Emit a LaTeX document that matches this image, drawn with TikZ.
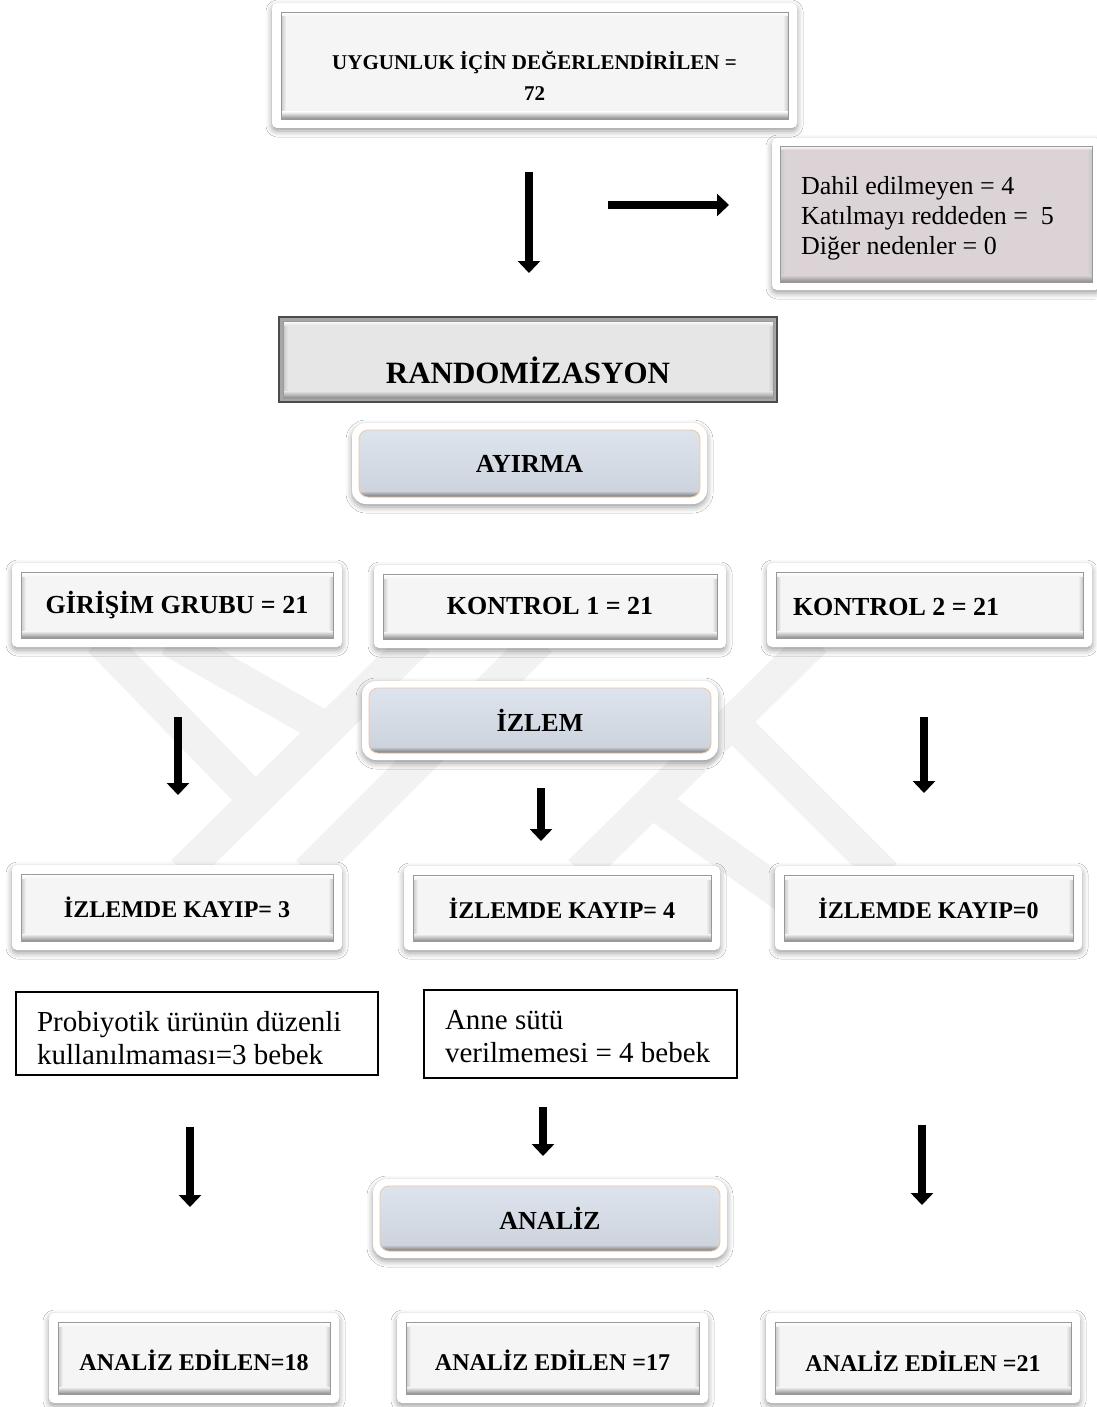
\documentclass[tikz,border=0pt]{standalone}
\usepackage{fontspec}
\setmainfont{Liberation Serif}
\usetikzlibrary{arrows.meta,shadows.blur,calc}
\definecolor{wm}{HTML}{F2F2F2}
\definecolor{panelg}{HTML}{F5F5F5}
\definecolor{panelp}{HTML}{DCD3D7}
\definecolor{panelb}{HTML}{CCD2DB}
\definecolor{panelbt}{HTML}{DEE4ED}
\definecolor{peach}{HTML}{F0C6A2}
\definecolor{randfill}{HTML}{E6E6E6}
\newcommand\fs[2]{\fontsize{#1}{#2}\selectfont}
\newcommand\lowerby[2]{\raisebox{-#1}[\height][\depth]{#2}}
\tikzset{
  frame/.style={fill=white, rounded corners=5pt, inner sep=0pt,
    blur shadow={shadow xshift=0pt, shadow yshift=-3pt, shadow blur radius=6pt, shadow opacity=40}},
  bevel/.style 2 args={path picture={
    \coordinate (pa) at ([xshift=#1,yshift=#1]path picture bounding box.south west);
    \coordinate (pb) at ([xshift=-#1,yshift=-#1]path picture bounding box.north east);
    \coordinate (pc) at (pa -| pb);
    \coordinate (pd) at (pa |- pb);
    \fill[#2, sharp corners] (pa) rectangle (pb);
    \shade[sharp corners, left color=black!22, right color=#2] (pa) rectangle ([xshift=5pt]pd);
    \shade[sharp corners, right color=black!22, left color=#2] (pc) rectangle ([xshift=-5pt]pb);
    \shade[sharp corners, top color=white, bottom color=#2] (pd) rectangle ([yshift=-4pt]pb);
    \shade[sharp corners, top color=#2, bottom color=black!45] (pa) rectangle ([yshift=7pt]pc);
    \draw[sharp corners, black!40, line width=0.6pt] (pa) rectangle (pb);
  }},
  button/.style={fill=white, rounded corners=14pt, inner sep=0pt,
    blur shadow={shadow xshift=0pt, shadow yshift=-3pt, shadow blur radius=6pt, shadow opacity=40},
    path picture={
    \coordinate (pa) at ([xshift=7pt,yshift=7pt]path picture bounding box.south west);
    \coordinate (pb) at ([xshift=-7pt,yshift=-7pt]path picture bounding box.north east);
    \coordinate (pc) at (pa -| pb);
    \begin{scope}
      \clip[rounded corners=9pt] (pa) rectangle (pb);
      \shade[sharp corners, top color=panelbt, bottom color=panelb] (pa) rectangle (pb);
      \shade[sharp corners, top color=panelb, bottom color=black!55] (pa) rectangle ([yshift=6pt]pc);
    \end{scope}
    \draw[peach, line width=0.8pt, rounded corners=9pt] (pa) rectangle (pb);
  }},
  plainbox/.style={draw=black, line width=1.1pt, fill=white, inner sep=0pt},
  boldtxt/.style={font=\fs{26}{31}\bfseries},
  bigarrow/.style={line width=8pt, -{Triangle[width=22pt,length=12pt]}},
  wmband/.style={wm, line width=33pt, line cap=butt}
}
\begin{document}
\begin{tikzpicture}[x=1pt,y=-1pt]
\useasboundingbox (0,0) rectangle (1096,1407);
\fill[white] (0,0) rectangle (1096,1407);
% watermark
\draw[wmband] (100,640) -- (258,803);
\draw[wmband] (170,640) -- (325,728);
\draw[wmband] (183,872) -- (418,640);
\draw[wmband] (308,872) -- (540,640);
\draw[wmband] (580,872) -- (815,640);
\draw[wmband] (735,725) -- (885,875);
\draw[wmband] (650,800) -- (790,900);

% boxes
\node[frame, bevel={9pt}{panelg}, minimum width=525pt, minimum height=125pt, font=\fs{21}{31}\bfseries]
  (elig) at (534.5,65.5) {\lowerby{13pt}{\begin{tabular}{@{}c@{}}UYGUNLUK İÇİN DEĞERLENDİRİLEN =\\72\end{tabular}}};
\node[frame, bevel={8pt}{panelp}, minimum width=328pt, minimum height=152pt, font=\fs{26}{30}]
  (excl) at (936,214) {\lowerby{4pt}{\begin{tabular}{@{}p{270pt}@{}}Dahil edilmeyen = 4\\Katılmayı reddeden =\ \ 5\\Diğer nedenler = 0\end{tabular}}};
\node[draw=black!70, line width=1.5pt, fill=black!35, inner sep=0pt, bevel={4pt}{randfill}, minimum width=498pt, minimum height=85pt, font=\fs{31}{36}\bfseries]
  (rand) at (528,359.5) {\lowerby{11pt}{RANDOMİZASYON}};
\node[button, boldtxt, minimum width=355pt, minimum height=81pt] (ayir) at (529.5,463.5) {AYIRMA};

\node[frame, bevel={9pt}{panelg}, boldtxt, minimum width=330pt, minimum height=84pt] (grp1) at (177,605) {GİRİŞİM GRUBU = 21};
\node[frame, bevel={9pt}{panelg}, boldtxt, minimum width=352pt, minimum height=83pt] (grp2) at (550,606.5) {KONTROL 1 = 21};
\node[frame, bevel={9pt}{panelg}, boldtxt, minimum width=325pt, minimum height=84pt] (grp3) at (929.5,605) {\lowerby{4pt}{\begin{tabular}{@{}p{273pt}@{}}KONTROL 2 = 21\end{tabular}}};

\node[button, boldtxt, minimum width=356pt, minimum height=79pt] (izlem) at (540,720.5) {İZLEM};

\node[frame, bevel={9pt}{panelg}, font=\fs{24}{29}\bfseries, minimum width=330pt, minimum height=85pt] (loss1) at (177,907.5) {İZLEMDE KAYIP= 3};
\node[frame, bevel={9pt}{panelg}, font=\fs{24}{29}\bfseries, minimum width=316pt, minimum height=84pt] (loss2) at (562,908) {İZLEMDE KAYIP= 4};
\node[frame, bevel={9pt}{panelg}, font=\fs{24}{29}\bfseries, minimum width=307pt, minimum height=84pt] (loss3) at (928.5,908) {İZLEMDE KAYIP=0};

\node[plainbox, minimum width=362pt, minimum height=83pt, font=\fs{29}{33}] (why1) at (197,1033.5)
  {\lowerby{8pt}{\begin{tabular}{@{}p{320pt}@{}}Probiyotik ürünün düzenli\\kullanılmaması=3 bebek\end{tabular}}};
\node[plainbox, minimum width=313pt, minimum height=88pt, font=\fs{29}{33}] (why2) at (580.5,1034)
  {\lowerby{5pt}{\begin{tabular}{@{}p{271pt}@{}}Anne sütü\\verilmemesi = 4 bebek\end{tabular}}};

\node[button, boldtxt, minimum width=354pt, minimum height=79pt] (anal) at (550,1218.5) {ANALİZ};

\node[frame, bevel={9pt}{panelg}, font=\fs{24}{29}\bfseries, minimum width=290pt, minimum height=90pt] (res1) at (194,1358) {\lowerby{2pt}{ANALİZ EDİLEN=18}};
\node[frame, bevel={9pt}{panelg}, font=\fs{24}{29}\bfseries, minimum width=311pt, minimum height=90pt] (res2) at (552.5,1358) {\lowerby{2pt}{ANALİZ EDİLEN =17}};
\node[frame, bevel={9pt}{panelg}, font=\fs{24}{29}\bfseries, minimum width=314pt, minimum height=90pt] (res3) at (923,1358) {\lowerby{3pt}{ANALİZ EDİLEN =21}};

% arrows
\coordinate (a1s) at (529,172); \coordinate (a1e) at (529,273);
\coordinate (a2s) at (608,205); \coordinate (a2e) at (729,205);
\coordinate (a3s) at (178,717); \coordinate (a3e) at (178,795);
\coordinate (a4s) at (541,788); \coordinate (a4e) at (541,841);
\coordinate (a5s) at (924,717); \coordinate (a5e) at (924,793);
\coordinate (a6s) at (543,1107); \coordinate (a6e) at (543,1156);
\coordinate (a7s) at (190,1127); \coordinate (a7e) at (190,1207);
\coordinate (a8s) at (922,1125); \coordinate (a8e) at (922,1205);
\foreach \i in {1,...,8} \draw[bigarrow] (a\i s) -- (a\i e);
\end{tikzpicture}
\end{document}
